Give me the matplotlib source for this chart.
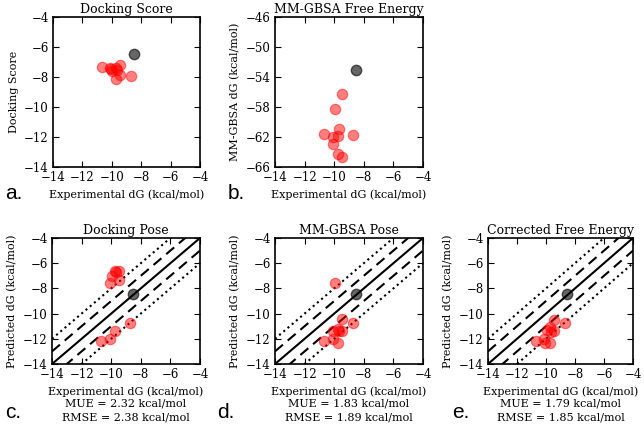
import matplotlib.pyplot as plt
import numpy as np

plt.rcParams['font.family'] = ['DejaVu Serif']

# experimental dG of the ligands, and the reference ligand
exp_dg = [-10.67, -10.11, -10.07, -9.96, -9.71, -9.71, -9.66, -9.44, -9.44, -8.72]
ref_exp = -8.52

dock_score = [-7.3, -7.4, -7.45, -7.6, -7.4, -8.15, -7.5, -7.2, -7.85, -7.93]
ref_dock_score = -6.44

gbsa_energy = [-61.6, -62.9, -62.0, -58.3, -61.9, -64.3, -60.9, -56.3, -64.7, -61.7]
ref_gbsa_energy = -53.1

dock_pose = [-12.15, -12.05, -7.55, -7.0, -6.6, -11.35, -6.7, -6.65, -7.35, -10.75]
gbsa_pose = [-12.15, -12.05, -11.35, -7.55, -11.25, -12.3, -11.35, -10.45, -11.35, -10.72]
corrected = [-12.15, -12.05, -12.3, -11.3, -11.1, -12.35, -11.45, -10.5, -11.4, -10.75]
ref_pred = -8.45

mue = [2.32, 1.83, 1.79]
rmse = [2.38, 1.89, 1.85]

W, H = 644, 424
fig = plt.figure(figsize=(W / 100, H / 100), dpi=100)


def box(l, t, r, b):
    return [l / W, 1 - b / H, (r - l) / W, (b - t) / H]


def style(ax):
    ax.tick_params(direction='in', top=True, right=True, labelsize=8.5,
                   length=4, pad=3)
    for s in ax.spines.values():
        s.set_linewidth(1.2)


def dots(ax, x, y, rx, ry):
    ax.plot(x, y, 'o', color='red', alpha=0.5, ms=7.5, mec='red', mew=0.8)
    ax.plot([rx], [ry], 'o', color='black', alpha=0.6, ms=7.5)


# top row
ax = fig.add_axes(box(53, 17, 200, 167))
dots(ax, exp_dg, dock_score, ref_exp, ref_dock_score)
ax.set_xlim(-14, -4)
ax.set_ylim(-14, -4)
ax.set_xticks(np.arange(-14, -3, 2))
ax.set_yticks(np.arange(-14, -3, 2))
ax.set_title('Docking Score', fontsize=9, pad=3)
ax.set_xlabel('Experimental dG (kcal/mol)', fontsize=8)
ax.set_ylabel('Docking Score', fontsize=8)
style(ax)
fig.text(5 / W, 1 - 193 / H, 'a.', fontsize=15, family='Liberation Sans', va='center')

ax = fig.add_axes(box(275, 17, 423, 167))
dots(ax, exp_dg, gbsa_energy, ref_exp, ref_gbsa_energy)
ax.set_xlim(-14, -4)
ax.set_ylim(-66, -46)
ax.set_xticks(np.arange(-14, -3, 2))
ax.set_yticks(np.arange(-66, -45, 4))
ax.set_title('MM-GBSA Free Energy', fontsize=9, pad=3)
ax.set_xlabel('Experimental dG (kcal/mol)', fontsize=8)
ax.set_ylabel('MM-GBSA dG (kcal/mol)', fontsize=8)
style(ax)
fig.text(228 / W, 1 - 193 / H, 'b.', fontsize=15, family='Liberation Sans', va='center')

# bottom row
panels = [
    ('Docking Pose', dock_pose, (52, 200), 'c.', 5),
    ('MM-GBSA Pose', gbsa_pose, (275, 423), 'd.', 217),
    ('Corrected Free Energy', corrected, (488, 633), 'e.', 452),
]
line_x = np.array([-14, -4])
for i, (title, pred, (l, r), letter, lx) in enumerate(panels):
    ax = fig.add_axes(box(l, 238, r, 364))
    ax.plot(line_x, line_x, 'k-', lw=1.5)
    for off in (1, -1):
        ax.plot(line_x, line_x + off, 'k--', lw=1.5, dashes=(5, 3))
    for off in (2, -2):
        ax.plot(line_x, line_x + off, 'k:', lw=1.5)
    dots(ax, exp_dg, pred, ref_exp, ref_pred)
    ax.set_xlim(-14, -4)
    ax.set_ylim(-14, -4)
    ax.set_xticks(np.arange(-14, -3, 2))
    ax.set_yticks(np.arange(-14, -3, 2))
    ax.set_title(title, fontsize=9, pad=3)
    ax.set_xlabel('Experimental dG (kcal/mol)', fontsize=8)
    ax.set_ylabel('Predicted dG (kcal/mol)', fontsize=8)
    style(ax)
    cx = (l + r) / 2 / W
    fig.text(cx, 1 - 404 / H, 'MUE = %.2f kcal/mol' % mue[i], fontsize=8,
             ha='center', va='center')
    fig.text(cx, 1 - 418 / H, 'RMSE = %.2f kcal/mol' % rmse[i], fontsize=8,
             ha='center', va='center')
    fig.text(lx / W, 1 - 412 / H, letter, fontsize=15, family='Liberation Sans',
             va='center')

fig.savefig('out.png', dpi=100)
